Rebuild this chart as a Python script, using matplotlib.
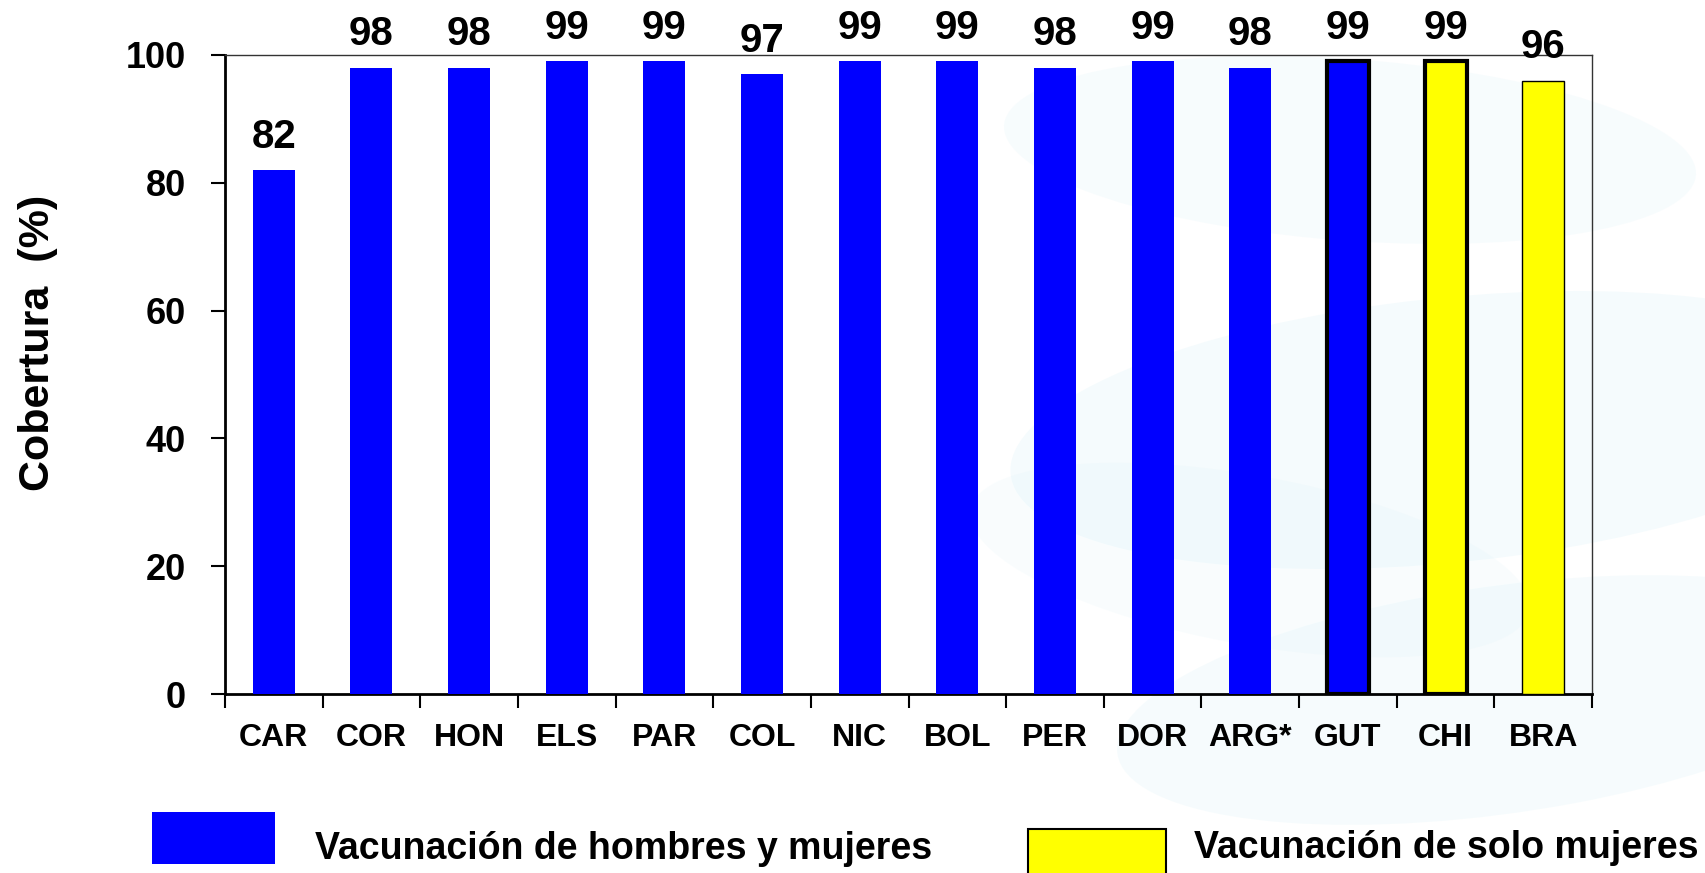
import matplotlib
matplotlib.use("Agg")
import matplotlib.pyplot as plt
from matplotlib.patches import Rectangle, Ellipse

plt.rcParams['font.family'] = ['Liberation Sans', 'DejaVu Sans']
plt.rcParams['font.weight'] = 'bold'

countries = ['CAR', 'COR', 'HON', 'ELS', 'PAR', 'COL', 'NIC', 'BOL',
             'PER', 'DOR', 'ARG*', 'GUT', 'CHI', 'BRA']
coverage = [82, 98, 98, 99, 99, 97, 99, 99, 98, 99, 98, 99, 99, 96]
# 'both' = hombres y mujeres, 'women' = solo mujeres
group = ['both'] * 12 + ['women'] * 2
edge_w = [0] * 11 + [3, 3, 1]
yticks = [0, 20, 40, 60, 80, 100]

colors = {'both': '#0000ff', 'women': '#ffff00'}
legend_labels = {'both': 'Vacunación de hombres y mujeres',
                 'women': 'Vacunación de solo mujeres'}

W, H = 1705, 873
fig = plt.figure(figsize=(W / 100, H / 100), dpi=100)
fig.patch.set_facecolor('white')

# faint decorative swirls in the background
for (cx, cy, w, h, ang, a) in [(1450, 430, 900, 260, 15, 0.25),
                                (1350, 150, 700, 180, -10, 0.18),
                                (1500, 700, 800, 220, 20, 0.22),
                                (1250, 560, 600, 160, -25, 0.15)]:
    fig.patches.append(Ellipse((cx / W, 1 - cy / H), w / W, h / H, angle=ang,
                               transform=fig.transFigure, facecolor='#d8f1f8',
                               edgecolor='none', alpha=a, zorder=-5))

ax = fig.add_axes([225 / W, 1 - 694 / H, (1592 - 225) / W, (694 - 55) / H])
ax.set_facecolor('none')
ax.set_zorder(2)

x = range(len(countries))
for i, (v, g, lw) in enumerate(zip(coverage, group, edge_w)):
    ax.bar(i, v, width=0.43, color=colors[g],
           edgecolor='black' if lw else colors[g], linewidth=lw, zorder=3)
    ax.annotate(str(v), (i, v), xytext=(0, 24), textcoords='offset points',
                ha='center', va='center', fontsize=29, fontweight='bold',
                annotation_clip=False)

ax.set_xlim(-0.5, len(countries) - 0.5)
ax.set_ylim(0, 100)
ax.set_yticks(yticks)
ax.set_yticklabels([str(t) for t in yticks], fontsize=26, fontweight='bold')
ax.tick_params(axis='y', length=10, width=1.5, pad=18)

ax.set_xticks([i - 0.5 for i in range(len(countries) + 1)])
ax.set_xticklabels([])
ax.tick_params(axis='x', which='major', length=10, width=1.5)
ax.set_xticks(list(x), minor=True)
ax.set_xticklabels(countries, minor=True, fontsize=23, fontweight='bold')
ax.tick_params(axis='x', which='minor', length=0, pad=21)

for s in ['left', 'bottom']:
    ax.spines[s].set_linewidth(2)
for s in ['top', 'right']:
    ax.spines[s].set_linewidth(1)
    ax.spines[s].set_color('#333333')

fig.text(38 / W, 1 - 343 / H, 'Cobertura  (%)', rotation=90, ha='center',
         va='center', fontsize=31, fontweight='bold')

# legend boxes
fig.patches.append(Rectangle((152 / W, 1 - 864 / H), 123 / W, 52 / H,
                             transform=fig.transFigure, facecolor=colors['both'],
                             edgecolor='none'))
fig.text(315 / W, 1 - 849 / H, legend_labels['both'], ha='left', va='center',
         fontsize=27, fontweight='bold')
fig.patches.append(Rectangle((1028 / W, 1 - 880 / H), 138 / W, 51 / H,
                             transform=fig.transFigure, facecolor=colors['women'],
                             edgecolor='black', linewidth=1.5, clip_on=False))
fig.text(1194 / W, 1 - 848 / H, legend_labels['women'], ha='left', va='center',
         fontsize=27, fontweight='bold')

fig.savefig('out.png', dpi=100)
